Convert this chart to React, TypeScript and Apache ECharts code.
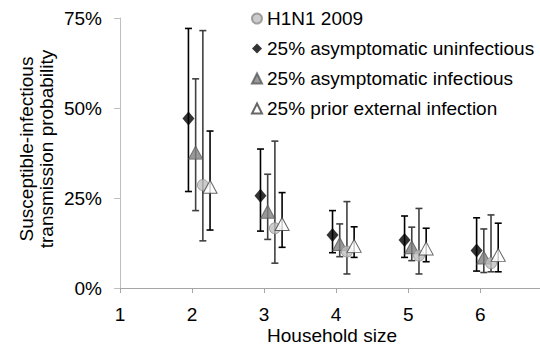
import React, { useEffect, useRef } from "react";
import * as echarts from "echarts";

const householdSizes = [2, 3, 4, 5, 6];
const xTicks = [1, 2, 3, 4, 5, 6];

const seriesNames = [
  "H1N1 2009",
  "25% asymptomatic uninfectious",
  "25% asymptomatic infectious",
  "25% prior external infection",
];

// point estimates (%)
const h1n1 = [28.6, 16.6, 10.1, 9.0, 6.9];
const uninfectious = [47.1, 25.6, 14.7, 13.3, 10.4];
const infectious = [37.6, 21.2, 12.2, 11.3, 8.5];
const priorExternal = [28.1, 17.8, 11.7, 11.0, 9.2];

// lower / upper bounds (%)
const h1n1Low = [13.1, 6.9, 3.9, 3.9, 4.5];
const h1n1High = [71.5, 40.8, 24.0, 22.1, 20.3];
const uninfectiousLow = [26.8, 15.8, 9.8, 8.5, 4.7];
const uninfectiousHigh = [72.1, 38.6, 21.5, 20.0, 19.5];
const infectiousLow = [21.5, 13.5, 8.7, 7.6, 4.3];
const infectiousHigh = [58.1, 31.6, 17.8, 16.9, 16.4];
const priorLow = [16.1, 11.3, 8.5, 7.3, 4.5];
const priorHigh = [43.6, 26.5, 17.0, 16.6, 18.0];

// horizontal dodge of each series around the household size
const offsets = [0.15, -0.05, 0.05, 0.25];

const FONT = "'Liberation Sans', Arial, sans-serif";

export default function App() {
  const ref = useRef<HTMLDivElement>(null);

  useEffect(() => {
    if (!ref.current) return;
    const chart = echarts.init(ref.current, undefined, { renderer: "svg" });

    const values = [h1n1, uninfectious, infectious, priorExternal];
    const lows = [h1n1Low, uninfectiousLow, infectiousLow, priorLow];
    const highs = [h1n1High, uninfectiousHigh, infectiousHigh, priorHigh];
    const barColors = ["#404040", "#000000", "#404040", "#000000"];
    const symbols = ["circle", "diamond", "triangle", "triangle"];
    const symbolSizes: any[] = [11, [12, 14], [14, 13], [14, 13]];
    const itemStyles = [
      { color: "#bfbfbf", borderColor: "#8c8c8c", borderWidth: 1 },
      { color: "#000000", borderColor: "#000000", borderWidth: 0 },
      { color: "#808080", borderColor: "#595959", borderWidth: 1 },
      { color: "#ffffff", borderColor: "#404040", borderWidth: 1 },
    ];
    const zOrder = [4, 3, 3, 5];

    const errorSeries = values.map((_, s) => ({
      type: "custom",
      name: "err" + s,
      z: 2,
      silent: true,
      data: householdSizes.map((h, i) => [h + offsets[s], lows[s][i], highs[s][i]]),
      renderItem: (params: any, api: any) => {
        const x = api.value(0);
        const lo = api.coord([x, api.value(1)]);
        const hi = api.coord([x, api.value(2)]);
        const cap = 3.5;
        const style = { stroke: barColors[s], lineWidth: 1.6 };
        return {
          type: "group",
          children: [
            { type: "line", shape: { x1: lo[0], y1: lo[1], x2: hi[0], y2: hi[1] }, style },
            { type: "line", shape: { x1: lo[0] - cap, y1: lo[1], x2: lo[0] + cap, y2: lo[1] }, style },
            { type: "line", shape: { x1: hi[0] - cap, y1: hi[1], x2: hi[0] + cap, y2: hi[1] }, style },
          ],
        };
      },
    }));

    const pointSeries = values.map((vals, s) => ({
      type: "scatter",
      name: seriesNames[s],
      z: zOrder[s],
      symbol: symbols[s],
      symbolSize: symbolSizes[s],
      itemStyle: itemStyles[s],
      data: householdSizes.map((h, i) => [h + offsets[s], vals[i]]),
    }));

    chart.setOption({
      animation: false,
      textStyle: { fontFamily: FONT },
      grid: {
        left: 120,
        right: 0,
        top: 18,
        bottom: 59,
        containLabel: false,
        outerBoundsMode: "none",
      },
      legend: {
        orient: "vertical",
        left: 246,
        top: 4,
        itemGap: 11,
        itemWidth: 10,
        itemHeight: 10,
        data: seriesNames.map((n) => ({ name: n })),
        textStyle: { fontSize: 19, color: "#000", fontFamily: FONT },
        selectedMode: false,
      },
      xAxis: {
        type: "value",
        min: 1,
        max: 6.83,
        interval: 1,
        splitLine: { show: false },
        axisLine: { show: true, lineStyle: { color: "#a6a6a6", width: 1 } },
        axisTick: { show: true, inside: false, length: 5, lineStyle: { color: "#a6a6a6" } },
        axisLabel: {
          fontSize: 19,
          color: "#000",
          margin: 17,
          fontFamily: FONT,
          showMaxLabel: false,
          formatter: (v: number) => (xTicks.includes(v) ? String(v) : ""),
        },
      },
      yAxis: {
        type: "value",
        min: 0,
        max: 75,
        interval: 25,
        splitLine: { show: false },
        axisLine: { show: true, lineStyle: { color: "#bfbfbf", width: 1 } },
        axisTick: { show: true, inside: false, length: 6, lineStyle: { color: "#bfbfbf" } },
        axisLabel: { fontSize: 19, color: "#000", margin: 18, fontFamily: FONT, formatter: "{value}%" },
      },
      graphic: [
        {
          type: "text",
          x: 36,
          y: 149,
          rotation: Math.PI / 2,
          style: {
            text: "Susceptible-infectious\ntransmission probability",
            fontSize: 19,
            fontFamily: FONT,
            fill: "#000",
            align: "center",
            verticalAlign: "middle",
            lineHeight: 20,
          },
        },
        {
          type: "text",
          x: 332,
          y: 335,
          style: {
            text: "Household size",
            fontSize: 19,
            fontFamily: FONT,
            fill: "#000",
            align: "center",
            verticalAlign: "middle",
            lineHeight: 19,
          },
        },
      ],
      series: [...errorSeries, ...pointSeries],
    });

    return () => chart.dispose();
  }, []);

  return (
    <div
      ref={ref}
      style={{ position: "fixed", left: 0, top: 0, width: 540, height: 347, background: "#fff" }}
    />
  );
}
